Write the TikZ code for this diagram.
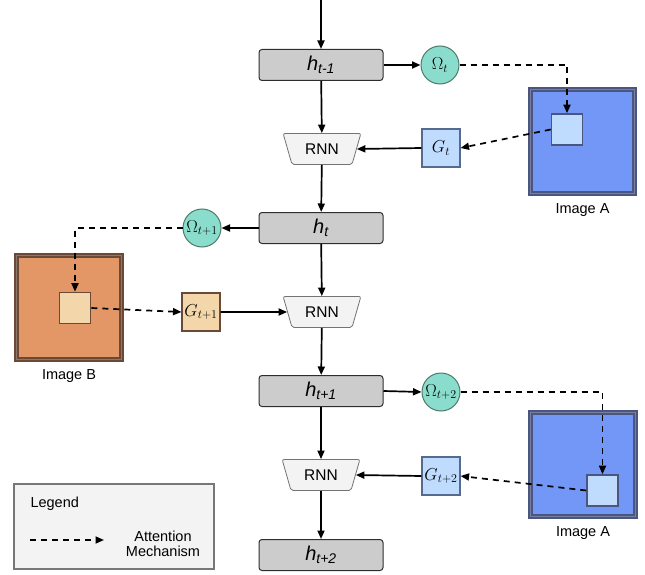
\documentclass[tikz,border=0pt]{standalone}
\usepackage{fontspec}
\setmainfont{Liberation Sans}
\usetikzlibrary{arrows.meta,shapes.geometric,positioning}
\definecolor{hfill}{HTML}{CCCCCC}
\definecolor{hdraw}{HTML}{2E2E2E}
\definecolor{omfill}{HTML}{8ADDCD}
\definecolor{omdraw}{HTML}{4F7A66}
\definecolor{gafill}{HTML}{BFDBFD}
\definecolor{gadraw}{HTML}{56698F}
\definecolor{imafill}{HTML}{7297F6}
\definecolor{imadraw}{HTML}{4A5680}
\definecolor{imbfill}{HTML}{E49766}
\definecolor{imbdraw}{HTML}{6A4A36}
\definecolor{gbfill}{HTML}{F4D6AB}
\definecolor{rnnfill}{HTML}{F3F3F3}
\definecolor{legfill}{HTML}{F3F3F3}
\definecolor{legdraw}{HTML}{777777}
\tikzset{
  hbox/.style={draw=hdraw, fill=hfill, line width=1pt, rounded corners=3pt,
    minimum width=124pt, minimum height=31pt, inner sep=0pt, font=\fontsize{20}{22}\selectfont\itshape},
  omnode/.style={circle, draw=omdraw, fill=omfill, line width=1pt, minimum size=38pt, inner sep=0pt,
    font=\fontsize{17}{18}\selectfont},
  gnode/.style={draw=#1, line width=1.1pt, minimum size=38pt, inner sep=0pt, font=\fontsize{18}{19}\selectfont},
  rnnbox/.style={trapezium, shape border rotate=180, trapezium angle=65, trapezium stretches=true,
    draw=black!55, fill=rnnfill, line width=0.8pt, minimum width=78pt, minimum height=31pt,
    inner sep=0pt, rounded corners=2pt, font=\fontsize{15.5}{17}\selectfont},
  imgframe/.style={draw=#1, line width=1.7pt, double=#1!75!white, double distance=1.2pt, minimum size=104.5pt, inner sep=0pt},
  patch/.style={draw=#1, line width=1.6pt, minimum size=31pt, inner sep=0pt},
  caption/.style={font=\fontsize{14.5}{16}\selectfont},
  flow/.style={-{Triangle[length=8.5pt,width=7pt]}, line width=1.7pt},
  attn/.style={-{Triangle[length=8.5pt,width=7pt]}, line width=1.7pt, dash pattern=on 6pt off 5pt},
}
\begin{document}
\begin{tikzpicture}[x=1pt,y=-1pt]
\useasboundingbox (0,0) rectangle (645,575);

% hidden states
\node[hbox] (hm1) at (321,65)  {h\textsubscript{t-1}};
\node[hbox] (ht)  at (321,228) {h\textsubscript{t}};
\node[hbox] (hp1) at (321,391) {h\textsubscript{t+1}};
\node[hbox] (hp2) at (321,555) {h\textsubscript{t+2}};

% recurrent cells
\node[rnnbox] (rnn1) at (322,149) {RNN};
\node[rnnbox] (rnn2) at (322,312) {RNN};
\node[rnnbox] (rnn3) at (321,475) {RNN};

% glimpse parameters
\node[omnode] (om1) at (440,65)  {$\Omega_t$};
\node[omnode] (om2) at (202,228) {$\Omega_{t+1}$};
\node[omnode] (om3) at (441,392) {$\Omega_{t+2}$};

% glimpses
\node[gnode=gadraw, fill=gafill] (g1) at (441,148) {$G_t$};
\node[gnode=imbdraw, fill=gbfill] (g2) at (201,312) {$G_{t+1}$};
\node[gnode=gadraw, fill=gafill] (g3) at (441,476) {$G_{t+2}$};

% images and their patches
\node[imgframe=imadraw, fill=imafill] (imA1) at (582.5,141.5) {};
\node[patch=imadraw, fill=gafill] (pA1) at (567,129.5) {};
\node[caption, below=5pt of imA1] (capA1) {Image A};

\node[imgframe=imbdraw, fill=imbfill] (imB) at (69,307.5) {};
\node[patch=imbdraw, fill=gbfill] (pB) at (75,308) {};
\node[caption, below=5pt of imB] (capB) {Image B};

\node[imgframe=imadraw, fill=imafill] (imA2) at (583,464.5) {};
\node[patch=imadraw, fill=gafill] (pA2) at (602.5,490.5) {};
\node[caption, below=5pt of imA2] (capA2) {Image A};

% main recurrence
\coordinate (in) at (321,0);
\draw[flow] (in) -- (hm1.north);
\draw[flow] (hm1) -- (rnn1);
\draw[flow] (rnn1) -- (ht);
\draw[flow] (ht) -- (rnn2);
\draw[flow] (rnn2) -- (hp1);
\draw[flow] (hp1) -- (rnn3);
\draw[flow] (rnn3) -- (hp2);

% states to glimpse parameters
\draw[flow] (hm1.east) -- (om1.west);
\draw[flow] (ht.west) -- (om2.east);
\draw[flow] (hp1.east) -- (om3.west);

% glimpses into the cells
\draw[flow] (g1.west) -- (rnn1.east);
\draw[flow] (g2.east) -- (rnn2.west);
\draw[flow] (g3.west) -- (rnn3.east);

% attention
\draw[attn] (om1.east) -| (pA1.north);
\draw[attn] (pA1.west) -- (g1.east);
\draw[attn] (om2.west) -| (pB.north);
\draw[attn] (pB.east) -- (g2.west);
\draw[attn] (om3.east) -| (pA2.north);
\draw[attn] (pA2.west) -- (g3.east);

% legend
\node[draw=legdraw, fill=legfill, line width=1.2pt, minimum width=200pt, minimum height=85pt] (leg) at (114,526.5) {};
\node[caption, anchor=west] (legt) at (27,504) {Legend};
\coordinate (la) at (30,540);
\coordinate (lb) at (104,540);
\draw[attn] (la) -- (lb);
\node[caption, align=center] (legm) at (163,544) {Attention\\[-1pt]Mechanism};
\end{tikzpicture}
\end{document}
